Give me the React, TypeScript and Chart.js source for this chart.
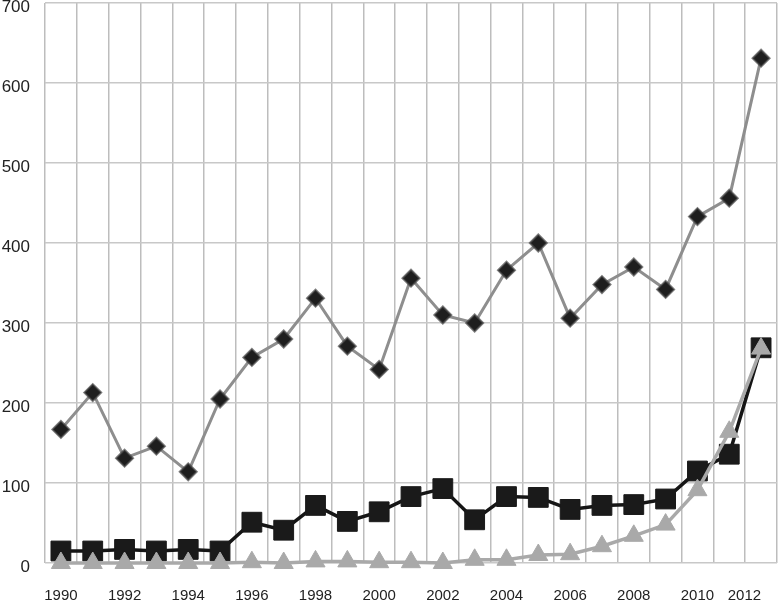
import React, { useEffect, useRef } from 'react';
import { Chart, registerables } from 'chart.js';

Chart.register(...registerables);

const years = [
  '1990', '1991', '1992', '1993', '1994', '1995', '1996', '1997', '1998', '1999', '2000', '2001',
  '2002', '2003', '2004', '2005', '2006', '2007', '2008', '2009', '2010', '2011', '2012',
];
const xTickLabels = ['1990', '1992', '1994', '1996', '1998', '2000', '2002', '2004', '2006', '2008', '2010', '2012'];

const diamondSeries = [167, 213, 131, 146, 114, 205, 257, 280, 331, 271, 242, 356, 310, 300, 366, 400, 306, 348, 370, 342, 433, 456, 631];
const squareSeries = [15, 15, 17, 15, 17, 15, 51, 41, 72, 52, 64, 83, 93, 54, 83, 82, 67, 72, 73, 80, 115, 136, 269];
const triangleSeries = [0, 0, 0, 0, 0, 0, 1, 0, 2, 2, 1, 1, 0, 4, 4, 10, 11, 21, 34, 48, 91, 164, 268];

const FONT = '"Liberation Sans", Arial, Helvetica, sans-serif';
const W = 778;
const H = 603;

const xLabelPlugin = {
  id: 'xLabels',
  afterDraw(chart: any) {
    const xs = chart.scales.x;
    const ctx = chart.ctx;
    ctx.save();
    ctx.font = `15px ${FONT}`;
    ctx.fillStyle = '#222';
    ctx.textBaseline = 'middle';
    xTickLabels.forEach((lab, k) => {
      const idx = years.indexOf(lab);
      const px = xs.getPixelForValue(idx);
      const last = k === xTickLabels.length - 1;
      ctx.textAlign = last ? 'right' : 'center';
      ctx.fillText(lab, px, xs.top + 33);
    });
    ctx.restore();
  },
};

export default function App() {
  const ref = useRef<HTMLCanvasElement | null>(null);

  useEffect(() => {
    if (!ref.current) return;
    const chart = new Chart(ref.current, {
      type: 'line',
      data: {
        labels: years,
        datasets: [
          {
            label: 'A',
            data: diamondSeries,
            borderColor: '#8e8e8e',
            borderWidth: 3,
            pointStyle: 'rectRot',
            pointRadius: 8.5,
            pointBackgroundColor: '#1e1e1e',
            pointBorderColor: 'rgba(70,70,70,0.7)',
            pointBorderWidth: 2,
            tension: 0,
            clip: false,
          },
          {
            label: 'C',
            data: triangleSeries,
            borderColor: '#a9a9a9',
            borderWidth: 3.5,
            pointStyle: 'triangle',
            pointRadius: 11,
            pointBackgroundColor: '#a9a9a9',
            pointBorderColor: '#a9a9a9',
            pointBorderWidth: 1,
            tension: 0,
            clip: false,
          },
          {
            label: 'B',
            data: squareSeries,
            borderColor: '#151515',
            borderWidth: 3.5,
            pointStyle: 'rect',
            pointRadius: 14,
            pointBackgroundColor: '#1a1a1a',
            pointBorderColor: '#1a1a1a',
            pointBorderWidth: 1,
            tension: 0,
            clip: false,
          },
        ],
      },
      options: {
        animation: false,
        responsive: false,
        maintainAspectRatio: false,
        devicePixelRatio: 1,
        layout: { autoPadding: false, padding: { top: 3, right: 1, bottom: 0, left: 0 } },
        plugins: {
          legend: { display: false },
          tooltip: { enabled: false },
        },
        scales: {
          x: {
            type: 'category',
            offset: true,
            grid: { offset: true, color: '#bdbdbd', lineWidth: 1.5, drawTicks: false },
            border: { display: false },
            ticks: { display: false },
            afterFit: (scale: any) => {
              scale.height = 40;
              scale.paddingLeft = 0;
              scale.paddingRight = 0;
            },
          },
          y: {
            min: 0,
            max: 700,
            grid: { color: '#c8c8c8', lineWidth: 1.5, drawTicks: false },
            border: { display: false },
            ticks: {
              stepSize: 100,
              padding: 15,
              labelOffset: 4,
              color: '#222',
              font: { family: FONT, size: 17 },
            },
            afterFit: (scale: any) => {
              scale.width = 45;
              scale.paddingTop = 0;
              scale.paddingBottom = 0;
            },
          },
        },
      },
      plugins: [xLabelPlugin],
    });
    return () => chart.destroy();
  }, []);

  return (
    <div style={{ position: 'fixed', left: 0, top: 0, width: W, height: H, overflow: 'hidden', background: '#fff' }}>
      <canvas ref={ref} width={W} height={H} style={{ display: 'block', width: W, height: H }} />
    </div>
  );
}
